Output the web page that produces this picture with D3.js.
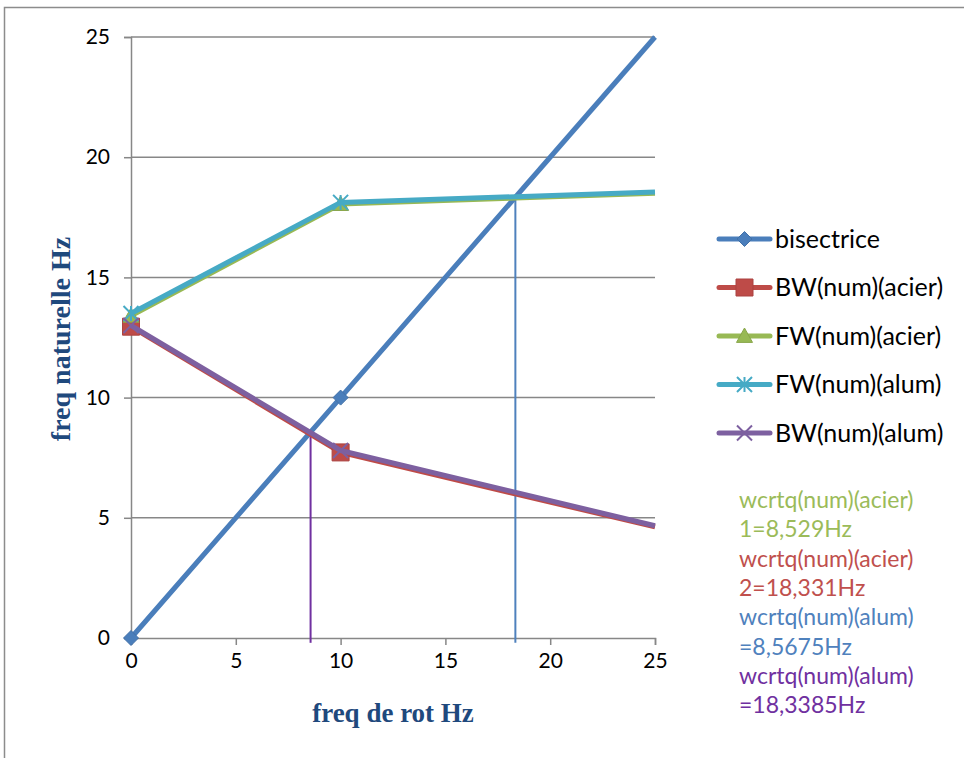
<!DOCTYPE html>
<html>
<head>
<meta charset="utf-8">
<script src="https://cdn.jsdelivr.net/npm/d3@7/dist/d3.min.js"></script>
<style>
  html, body { margin: 0; padding: 0; background: #fff; }
  svg { display: block; }
</style>
</head>
<body>
<svg id="chart" width="964" height="758"></svg>
<script>
// Rotation frequency (Hz) at which each curve is sampled
const rotFreq = [0, 10, 25];
// Points that carry a marker
const markedFreq = [0, 10];

const seriesNames = ["bisectrice", "BW(num)(acier)", "FW(num)(acier)", "FW(num)(alum)", "BW(num)(alum)"];
const bisectrice = [0, 10, 25];
const bwAcier = [12.95, 7.72, 4.62];
const fwAcier = [13.4, 18.05, 18.5];
const fwAlum = [13.5, 18.12, 18.55];
const bwAlum = [13.0, 7.8, 4.67];

const seriesColors = ["#4A7EBB", "#BE4B48", "#98B954", "#46AAC5", "#7D60A0"];
const seriesMarkers = ["diamond", "square", "triangle", "asterisk", "cross"];

// Critical speeds (crossing of the bisector with the whirl curves)
const critFreq = [8.5675, 18.3385];
const critColors = ["#7030A0", "#4F81BD"];

const annotations = [
  "wcrtq(num)(acier)", "1=8,529Hz",
  "wcrtq(num)(acier)", "2=18,331Hz",
  "wcrtq(num)(alum)", "=8,5675Hz",
  "wcrtq(num)(alum)", "=18,3385Hz"
];
const annotationColors = ["#9BBB59", "#9BBB59", "#C0504D", "#C0504D", "#4F81BD", "#4F81BD", "#7030A0", "#7030A0"];

const xTicks = [0, 5, 10, 15, 20, 25];
const yTicks = [0, 5, 10, 15, 20, 25];

const svg = d3.select("#chart");
const uiFont = "Lato, 'Open Sans', 'Liberation Sans', sans-serif";
const titleFont = "'Liberation Serif', 'DejaVu Serif', serif";
const titleColor = "#1F497D";

// outer chart frame
svg.append("path")
  .attr("d", "M4.5,758 V7.5 H964")
  .attr("fill", "none").attr("stroke", "#8C8C8C").attr("stroke-width", 1.5);

const x = d3.scaleLinear().domain([0, 25]).range([131, 655]);
const y = d3.scaleLinear().domain([0, 25]).range([638, 37]);

// horizontal gridlines
svg.append("g").selectAll("line").data(yTicks.filter(d => d > 0)).join("line")
  .attr("x1", x(0)).attr("x2", x(25))
  .attr("y1", d => y(d)).attr("y2", d => y(d))
  .attr("stroke", "#878787").attr("stroke-width", 1.5);

// axes
const xAxis = svg.append("g").attr("transform", `translate(0,${y(0)})`)
  .call(d3.axisBottom(x).tickValues(xTicks).tickSize(7).tickPadding(8).tickFormat(d3.format("d")));
const yAxis = svg.append("g").attr("transform", `translate(${x(0)},0)`)
  .call(d3.axisLeft(y).tickValues(yTicks).tickSize(7).tickPadding(14).tickFormat(d3.format("d")));
[xAxis, yAxis].forEach(g => {
  g.select(".domain").attr("stroke", "#878787").attr("stroke-width", 1.5);
  g.selectAll(".tick line").attr("stroke", "#878787").attr("stroke-width", 1.5);
  g.selectAll(".tick text").attr("fill", "#000").style("font-family", uiFont).style("font-size", "21px");
});

// critical-speed drop lines
critFreq.forEach((c, i) => {
  svg.append("line")
    .attr("x1", x(c)).attr("x2", x(c))
    .attr("y1", y(-0.2)).attr("y2", y(c))
    .attr("stroke", critColors[i]).attr("stroke-width", 2);
});

function markerPath(type, s) {
  const h = s / 2;
  switch (type) {
    case "diamond": return `M0,${-h} L${h},0 L0,${h} L${-h},0 Z`;
    case "square": return `M${-h},${-h} H${h} V${h} H${-h} Z`;
    case "triangle": return `M0,${-h} L${h},${h * 0.8} L${-h},${h * 0.8} Z`;
    case "asterisk": return `M${-h},${-h} L${h},${h} M${-h},${h} L${h},${-h} M0,${-h} V${h}`;
    case "cross": return `M${-h},${-h} L${h},${h} M${-h},${h} L${h},${-h}`;
  }
}
function drawMarker(g, type, color, cx, cy, s) {
  const p = g.append("path").attr("d", markerPath(type, s)).attr("transform", `translate(${cx},${cy})`);
  if (type === "asterisk" || type === "cross") {
    p.attr("fill", "none").attr("stroke", color).attr("stroke-width", 2);
  } else {
    p.attr("fill", color).attr("stroke", d3.color(color).darker(0.3)).attr("stroke-width", 1);
  }
}
const markerSizes = { diamond: 15, square: 17, triangle: 16, asterisk: 15, cross: 15 };

const allSeries = [bisectrice, bwAcier, fwAcier, fwAlum, bwAlum];
const line = d3.line().x(d => x(d[0])).y(d => y(d[1]));

allSeries.forEach((vals, i) => {
  const pts = rotFreq.map((f, j) => [f, vals[j]]);
  const g = svg.append("g");
  g.append("path").attr("d", line(pts))
    .attr("fill", "none").attr("stroke", seriesColors[i])
    .attr("stroke-width", 5).attr("stroke-linejoin", "round").attr("stroke-linecap", "butt");
  pts.filter(p => markedFreq.includes(p[0])).forEach(p => {
    drawMarker(g, seriesMarkers[i], seriesColors[i], x(p[0]), y(p[1]), markerSizes[seriesMarkers[i]]);
  });
});

// legend
const legend = svg.append("g");
seriesNames.forEach((name, i) => {
  const ly = 239 + i * 48.5;
  legend.append("line").attr("x1", 719).attr("x2", 770).attr("y1", ly).attr("y2", ly)
    .attr("stroke", seriesColors[i]).attr("stroke-width", 5).attr("stroke-linecap", "round");
  drawMarker(legend, seriesMarkers[i], seriesColors[i], 744.5, ly, markerSizes[seriesMarkers[i]]);
  legend.append("text").attr("x", 775).attr("y", ly).attr("dy", "0.35em")
    .attr("fill", "#000").style("font-family", uiFont).style("font-size", "25px").text(name);
});

// critical speed notes
const notes = svg.append("g");
annotations.forEach((t, i) => {
  notes.append("text").attr("x", 739).attr("y", 500 + i * 29.3).attr("dy", "0.35em")
    .attr("fill", annotationColors[i]).style("font-family", uiFont).style("font-size", "23px").text(t);
});

// axis titles
svg.append("text").attr("x", 393).attr("y", 713).attr("dy", "0.35em")
  .attr("text-anchor", "middle").attr("fill", titleColor)
  .style("font-family", titleFont).style("font-weight", "bold").style("font-size", "27px")
  .text("freq de rot Hz");
svg.append("text").attr("transform", "translate(60,339) rotate(-90)").attr("dy", "0.35em")
  .attr("text-anchor", "middle").attr("fill", titleColor)
  .style("font-family", titleFont).style("font-weight", "bold").style("font-size", "28px")
  .text("freq naturelle Hz");
</script>
</body>
</html>
